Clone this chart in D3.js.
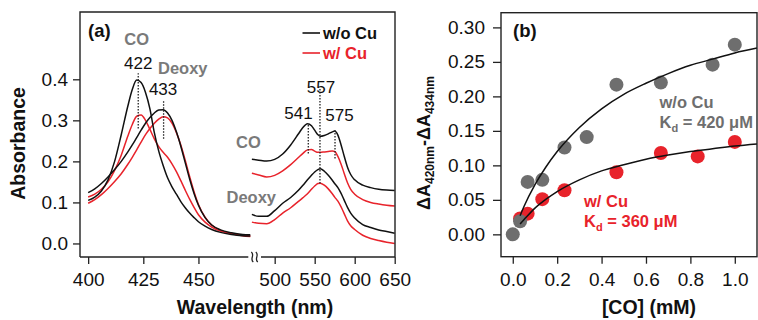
<!DOCTYPE html>
<html>
<head>
<meta charset="utf-8">
<script src="https://cdn.jsdelivr.net/npm/d3@7"></script>
<style>
  body { margin: 0; background: #fff; }
  svg { display: block; font-family: "Liberation Sans", Arial, Helvetica, sans-serif; }
</style>
</head>
<body>
<div id="chart"></div>
<script>
// ---- panel (a): spectra ----
const soretNm = [400, 403, 406, 409, 412, 415, 418, 420, 422, 424, 426, 428, 430, 432, 434, 436, 438, 440, 442, 444, 446, 448, 450, 453, 456, 460, 465, 470, 473.5];
const soretCoNoCu = [.105, .113, .128, .155, .20, .265, .335, .375, .398, .392, .368, .328, .27, .225, .19, .16, .138, .12, .102, .087, .074, .063, .053, .042, .034, .027, .022, .019, .018];
const soretCoCu = [.113, .12, .132, .15, .178, .215, .262, .29, .31, .313, .30, .278, .255, .236, .222, .21, .194, .175, .153, .13, .108, .088, .07, .052, .04, .03, .024, .02, .018];
const soretDeoxyNoCu = [.124, .133, .146, .162, .18, .20, .223, .24, .258, .276, .293, .307, .318, .325, .326, .318, .30, .272, .237, .197, .157, .122, .093, .063, .045, .033, .026, .022, .021];
const soretDeoxyCu = [.098, .107, .119, .134, .151, .17, .193, .21, .228, .247, .265, .28, .293, .303, .309, .306, .293, .27, .24, .203, .163, .126, .095, .064, .045, .032, .024, .019, .017];

const qNm = [471.5, 480, 490, 500, 510, 520, 530, 535, 541, 546, 550, 554, 557, 562, 567, 572, 575, 579, 583, 587, 591, 595, 600, 610, 620, 630, 640, 650];
const qCoNoCu = [.205, .203, .201, .205, .218, .24, .268, .282, .292, .287, .276, .265, .261, .263, .267, .272, .274, .264, .24, .212, .186, .168, .155, .142, .136, .132, .13, .129];
const qCoCu = [.171, .167, .162, .166, .177, .192, .21, .219, .228, .229, .225, .222, .222, .223, .224, .225, .224, .212, .193, .17, .148, .132, .12, .107, .10, .096, .093, .091];
const qDeoxyNoCu = [.071, .066, .066, .08, .098, .112, .13, .141, .155, .166, .174, .18, .182, .176, .166, .154, .146, .136, .122, .105, .088, .074, .062, .046, .039, .033, .029, .025];
const qDeoxyCu = [.052, .049, .048, .058, .074, .087, .103, .111, .121, .132, .14, .146, .147, .142, .133, .121, .113, .103, .089, .072, .055, .043, .034, .02, .012, .007, .003, 0];

const soretTicks = [400, 425, 450];
const qTicks = [500, 550, 600, 650];
const absTicks = [0, 0.1, 0.2, 0.3, 0.4];
// peak markers: label, wavelength, [low, high] absorbance of dotted line
const soretPeaks = [
  {label: "422", nm: 422.7, y0: 0.28, y1: 0.415},
  {label: "433", nm: 434.2, y0: 0.255, y1: 0.349}
];
const qPeaks = [
  {label: "541", nm: 542, y0: 0.219, y1: 0.292},
  {label: "557", nm: 556.6, y0: 0.146, y1: 0.378},
  {label: "575", nm: 575.4, y0: 0.207, y1: 0.276}
];

// ---- panel (b): titration ----
const coMM = [0, 0.033, 0.067, 0.133, 0.233, 0.333, 0.467, 0.667, 0.9, 1.0];
const dANoCu = [0.0, 0.019, 0.076, 0.079, 0.126, 0.141, 0.217, 0.220, 0.246, 0.275];
const coMMCu = [0.033, 0.067, 0.133, 0.233, 0.467, 0.667, 0.833, 1.0];
const dACu = [0.023, 0.030, 0.051, 0.064, 0.090, 0.118, 0.113, 0.134];
// fitted binding curves
const fitX = [0.033, 0.05, 0.1, 0.15, 0.2, 0.3, 0.4, 0.5, 0.6, 0.7, 0.8, 0.9, 1.0, 1.1];
const fitNoCu = [0.027, 0.040, 0.072, 0.098, 0.120, 0.155, 0.182, 0.203, 0.219, 0.233, 0.245, 0.254, 0.263, 0.270];
const fitCu = [0.015, 0.021, 0.038, 0.051, 0.062, 0.079, 0.092, 0.101, 0.109, 0.115, 0.120, 0.124, 0.128, 0.131];
const coTicks = [0, 0.2, 0.4, 0.6, 0.8, 1.0];
const dATicks = [0, 0.05, 0.10, 0.15, 0.20, 0.25, 0.30];

const black = "#111";
const red = "#e8232b";
const grey = "#6e6e6e";
const axisColor = "#222";

const svg = d3.select("#chart").append("svg")
  .attr("width", 758)
  .attr("height", 320);

// ================= panel (a) =================
const a = {left: 80, right: 395, top: 12, bottom: 257};
const xL = d3.scaleLinear().domain([396.3, 472.6]).range([80, 248.3]);
const xR = d3.scaleLinear().domain([482.9, 650]).range([261, 394.7]);
const yA = d3.scaleLinear().domain([-0.033, 0.564]).range([a.bottom, a.top]);

const lineL = d3.line().x(d => xL(d[0])).y(d => yA(d[1])).curve(d3.curveMonotoneX);
const lineR = d3.line().x(d => xR(d[0])).y(d => yA(d[1])).curve(d3.curveMonotoneX);

const ga = svg.append("g");

[[soretDeoxyCu, red], [soretCoCu, red], [soretDeoxyNoCu, black], [soretCoNoCu, black]].forEach(([vals, c]) => {
  ga.append("path")
    .attr("d", lineL(d3.zip(soretNm, vals)))
    .attr("fill", "none").attr("stroke", c).attr("stroke-width", 1.5);
});
[[qDeoxyCu, red], [qCoCu, red], [qDeoxyNoCu, black], [qCoNoCu, black]].forEach(([vals, c]) => {
  ga.append("path")
    .attr("d", lineR(d3.zip(qNm, vals)))
    .attr("fill", "none").attr("stroke", c).attr("stroke-width", 1.5);
});

// dotted peak markers
soretPeaks.forEach(p => {
  ga.append("line")
    .attr("x1", xL(p.nm)).attr("x2", xL(p.nm))
    .attr("y1", yA(p.y0)).attr("y2", yA(p.y1))
    .attr("stroke", "#222").attr("stroke-width", 1.3).attr("stroke-dasharray", "1.5,1.5");
});
qPeaks.forEach(p => {
  ga.append("line")
    .attr("x1", xR(p.nm)).attr("x2", xR(p.nm))
    .attr("y1", yA(p.y0)).attr("y2", yA(p.y1))
    .attr("stroke", "#222").attr("stroke-width", 1.3).attr("stroke-dasharray", "1.5,1.5");
});

// peak labels
const peakText = (x, y, t) => ga.append("text").attr("x", x).attr("y", y)
  .attr("text-anchor", "middle").attr("font-size", 17).attr("fill", "#111").text(t);
peakText(xL(soretPeaks[0].nm), 68.5, soretPeaks[0].label);
peakText(xL(soretPeaks[1].nm) - 0.5, 95, soretPeaks[1].label);
peakText(298.5, 119, qPeaks[0].label);
peakText(321, 93.3, qPeaks[1].label);
peakText(339.5, 120.5, qPeaks[2].label);

const greyText = (x, y, t, anchor) => ga.append("text").attr("x", x).attr("y", y)
  .attr("text-anchor", anchor || "start").attr("font-size", 16.5).attr("font-weight", "bold")
  .attr("fill", "#7a7a7a").text(t);
greyText(136.7, 45, "CO", "middle");
greyText(158, 74.3, "Deoxy");
greyText(236, 148.3, "CO");
greyText(226.5, 202.5, "Deoxy");

// legend
const legend = [{t: "w/o Cu", c: black}, {t: "w/ Cu", c: red}];
legend.forEach((l, i) => {
  ga.append("line").attr("x1", 302.5).attr("x2", 320).attr("y1", 33 + i * 20).attr("y2", 33 + i * 20)
    .attr("stroke", l.c).attr("stroke-width", 1.6);
  ga.append("text").attr("x", 323).attr("y", 38.5 + i * 20)
    .attr("font-size", 16.5).attr("font-weight", "bold").attr("fill", l.c).text(l.t);
});

ga.append("text").attr("x", 88).attr("y", 36.7)
  .attr("font-size", 18.5).attr("font-weight", "bold").attr("fill", "#111").text("(a)");

// frame and axes
ga.append("path")
  .attr("d", `M${a.left},${a.bottom}V${a.top}H${a.right}V${a.bottom}`)
  .attr("fill", "none").attr("stroke", axisColor).attr("stroke-width", 1.4);

ga.append("g").attr("transform", `translate(${a.left},0)`)
  .call(d3.axisLeft(yA).tickValues(absTicks).tickFormat(d3.format(".1f")).tickSize(7).tickPadding(5))
  .call(g => g.select(".domain").remove());

ga.append("g").attr("transform", `translate(0,${a.bottom})`)
  .call(d3.axisBottom(xL).tickValues(soretTicks).tickSize(7).tickPadding(9))
  .call(g => g.select(".domain").attr("d", `M80,0H${xL.range()[1]}`));

ga.append("g").attr("transform", `translate(0,${a.bottom})`)
  .call(d3.axisBottom(xR).tickValues(qTicks).tickSize(7).tickPadding(9))
  .call(g => g.select(".domain").attr("d", `M${xR.range()[0]},0H${a.right}`));

// axis break
[252.3, 256.8].forEach(bx => {
  ga.append("path")
    .attr("d", `M${bx - 1},${a.bottom - 5}C${bx + 3},${a.bottom - 2} ${bx - 3},${a.bottom + 2} ${bx + 1},${a.bottom + 5}`)
    .attr("fill", "none").attr("stroke", axisColor).attr("stroke-width", 1.3);
});

ga.append("text").attr("transform", "translate(25,143.5) rotate(-90)")
  .attr("text-anchor", "middle").attr("font-size", 19.5).attr("font-weight", "bold")
  .attr("fill", "#111").text("Absorbance");
ga.append("text").attr("x", 255).attr("y", 313.5)
  .attr("text-anchor", "middle").attr("font-size", 19.5).attr("font-weight", "bold")
  .attr("fill", "#111").text("Wavelength (nm)");

// ================= panel (b) =================
const b = {left: 501, right: 757, top: 12.7, bottom: 256.7};
const xB = d3.scaleLinear().domain([-0.053, 1.1]).range([b.left, b.right]);
const yB = d3.scaleLinear().domain([-0.0324, 0.3213]).range([b.bottom, b.top]);

const gb = svg.append("g");

gb.selectAll(".dotCu").data(d3.zip(coMMCu, dACu)).join("circle")
  .attr("cx", d => xB(d[0])).attr("cy", d => yB(d[1])).attr("r", 7).attr("fill", red);
gb.selectAll(".dotNoCu").data(d3.zip(coMM, dANoCu)).join("circle")
  .attr("cx", d => xB(d[0])).attr("cy", d => yB(d[1])).attr("r", 7).attr("fill", grey);

const fitLine = d3.line().x(d => xB(d[0])).y(d => yB(d[1])).curve(d3.curveMonotoneX);
[fitNoCu, fitCu].forEach(vals => {
  gb.append("path").attr("d", fitLine(d3.zip(fitX, vals)))
    .attr("fill", "none").attr("stroke", black).attr("stroke-width", 1.5);
});

gb.append("rect").attr("x", b.left).attr("y", b.top)
  .attr("width", b.right - b.left).attr("height", b.bottom - b.top)
  .attr("fill", "none").attr("stroke", axisColor).attr("stroke-width", 1.4);

gb.append("g").attr("transform", `translate(${b.left},0)`)
  .call(d3.axisLeft(yB).tickValues(dATicks).tickFormat(d3.format(".2f")).tickSize(8).tickPadding(8))
  .call(g => g.select(".domain").remove());

gb.append("g").attr("transform", `translate(0,${b.bottom})`)
  .call(d3.axisBottom(xB).tickValues(coTicks).tickFormat(d3.format(".1f")).tickSize(7).tickPadding(9))
  .call(g => g.select(".domain").remove());

gb.append("text").attr("x", 513).attr("y", 36.7)
  .attr("font-size", 18.5).attr("font-weight", "bold").attr("fill", "#111").text("(b)");

const kdLabel = (x, y, name, kd, c) => {
  gb.append("text").attr("x", x).attr("y", y)
    .attr("font-size", 16.5).attr("font-weight", "bold").attr("fill", c).text(name);
  const t = gb.append("text").attr("x", x).attr("y", y + 20)
    .attr("font-size", 16.5).attr("font-weight", "bold").attr("fill", c);
  t.append("tspan").text("K");
  t.append("tspan").attr("font-size", 11).attr("dy", 4).text("d");
  t.append("tspan").attr("dy", -4).text(` = ${kd} \u03BCM`);
};
kdLabel(659.5, 108.3, "w/o Cu", 420, grey);
kdLabel(584, 206.7, "w/ Cu", 360, red);

const yl = gb.append("text").attr("transform", "translate(430,143) rotate(-90)")
  .attr("text-anchor", "middle").attr("font-size", 18).attr("font-weight", "bold").attr("fill", "#111");
yl.append("tspan").text("\u0394A");
yl.append("tspan").attr("font-size", 12).attr("dy", 4).text("420nm");
yl.append("tspan").attr("dy", -4).text("-\u0394A");
yl.append("tspan").attr("font-size", 12).attr("dy", 4).text("434nm");

gb.append("text").attr("x", 649).attr("y", 314)
  .attr("text-anchor", "middle").attr("font-size", 19.5).attr("font-weight", "bold")
  .attr("fill", "#111").text("[CO] (mM)");

svg.selectAll(".tick text").attr("font-size", 19).attr("fill", "#111")
  .attr("font-family", "'Liberation Sans', Arial, Helvetica, sans-serif");
svg.selectAll(".tick line").attr("stroke", axisColor).attr("stroke-width", 1.3);
svg.selectAll(".domain").attr("stroke", axisColor).attr("stroke-width", 1.4);
</script>
</body>
</html>
